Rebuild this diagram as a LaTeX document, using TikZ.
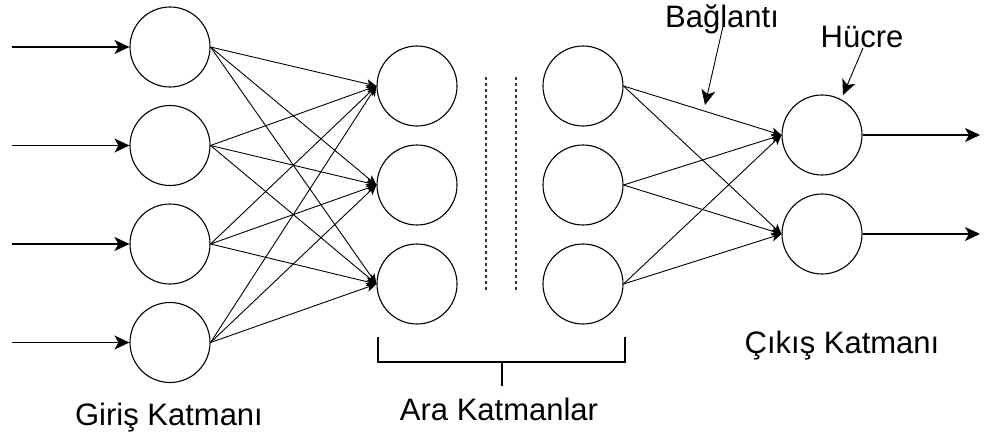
\documentclass[tikz,border=0pt]{standalone}
\usepackage{fontspec}
\setmainfont{Liberation Sans}
\usetikzlibrary{arrows.meta}
\tikzset{
  cember/.style={circle,draw,line width=1.1pt,minimum size=80pt,inner sep=0pt},
  ok/.style={line width=1.1pt,-{Stealth[length=15pt,width=14pt,inset=4pt]}},
  bag/.style={line width=0.9pt,-{Stealth[length=10pt,width=9pt,inset=2.5pt]}},
  yazi/.style={anchor=base,inner sep=0pt,font=\fontsize{31}{36}\selectfont},
  kesik/.style={dashed,line width=1.2pt,black!80},
}

\begin{document}
\begin{tikzpicture}[x=1pt,y=-1pt]
  \useasboundingbox (0,0) rectangle (990,436);
  % giris katmani
  \foreach \i in {1,...,4} {
    \node[cember] (g\i) at (170,{47+98.5*(\i-1)}) {};
    \coordinate (gx\i) at (12,{47+98.5*(\i-1)});
    \draw[ok] (gx\i) -- (g\i);
  }
  % ara katmanlar
  \foreach \j/\y in {1/86,2/185,3/284} {
    \node[cember] (a\j) at (417,\y) {};
    \node[cember] (b\j) at (583,\y) {};
  }
  % cikis katmani
  \foreach \k/\y in {1/135,2/234} {
    \node[cember] (c\k) at (822,\y) {};
    \coordinate (cx\k) at (980,\y);
    \draw[ok] (c\k) -- (cx\k);
  }
  \foreach \i in {1,...,4} \foreach \j in {1,2,3} \draw[bag] (g\i.east) -- (a\j.west);
  \foreach \j in {1,2,3} \foreach \k in {1,2} \draw[bag] (b\j.east) -- (c\k.west);
  \draw[kesik] (486,77) -- (486,293);
  \draw[kesik] (516,77) -- (516,293);
  \draw[line width=1.4pt] (378,337) |- (625,362) -- (625,337);
  \draw[line width=1.4pt] (502,362) -- (502,386);
  \node[yazi] (giris) at (169,425) {Giriş Katmanı};
  \node[yazi] (ara) at (499,420) {Ara Katmanlar};
  \node[yazi] (cikis) at (842,353) {Çıkış Katmanı};
  \node[yazi] (bagl) at (722,28) {Bağlantı};
  \node[yazi] (hucre) at (862,48) {Hücre};
  \coordinate (baguc) at (705,105);
  \coordinate (hucuc) at (843,95);
  \draw[ok,line width=0.9pt] ([shift={(2,-6)}]bagl.base) -- (baguc);
  \draw[ok,line width=0.9pt] ([shift={(1,0)}]hucre.base) -- (hucuc);
\end{tikzpicture}
\end{document}
